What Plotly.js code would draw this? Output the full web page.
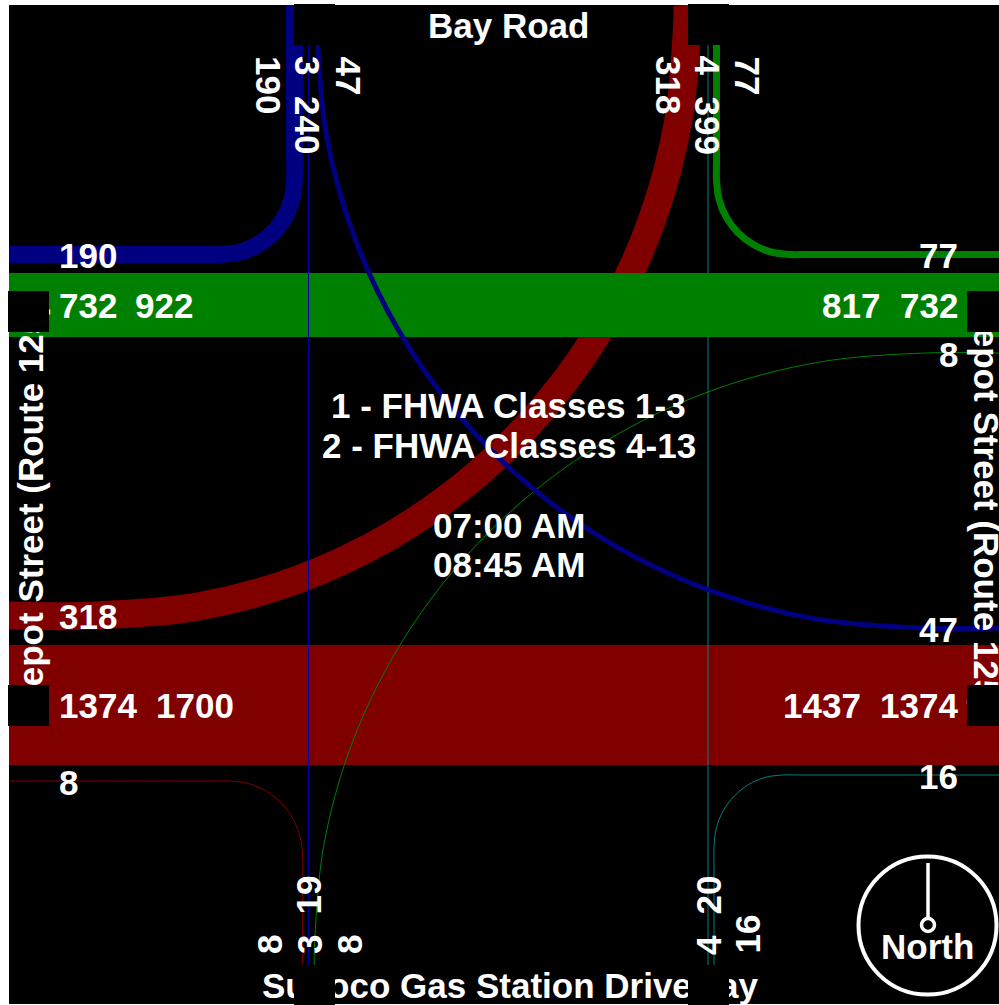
<!DOCTYPE html>
<html>
<head>
<meta charset="utf-8">
<script src="https://cdn.plot.ly/plotly-3.0.1.min.js"></script>
<style>html,body{margin:0;padding:0;background:#fff;overflow:hidden}</style>
</head>
<body>
<div id="chart" style="width:999px;height:1005px"></div>
<script>
// ---- road names and notes
const roadNorth = "Bay Road";
const roadSouth = "Sunoco Gas Station Driveway";
const roadSide = "Depot Street (Route 125)";
const classNotes = ["1 - FHWA Classes 1-3", "2 - FHWA Classes 4-13"];
const timeNotes = ["07:00 AM", "08:45 AM"];
const compassLabel = "North";

// ---- counts on each approach
const westCounts = [190, 732, 922, 318, 1374, 1700, 8];
const eastCounts = [77, 817, 732, 8, 47, 1437, 1374, 16];
const northCounts = [190, 3, 240, 47, 318, 4, 399, 77];
const southCounts = [8, 3, 19, 8, 4, 20, 16];

// ---- movement paths (axis units)
const redThroughX = [8, 999];            const redThroughY = [705, 705];
const red318X = [687.5, 687.5, 678.5, 651.8, 608.3, 549.1, 476.2, 391.8, 298.3, 198.7, 96, 8];
const red318Y = [5, 15, 119.3, 220.4, 315.3, 401, 475, 535, 579.3, 606.4, 615.5, 615.5];
const red8X = [8, 211, 230, 248.8, 266.4, 281.4, 293, 300.2, 302.7, 302.7, 302.7];
const red8Y = [781, 781, 781, 783.6, 791.1, 803.2, 818.9, 837.6, 856.7, 876, 965];

const tealThroughX = [708, 708];         const tealThroughY = [45, 965];
const teal16X = [999, 802, 783, 765.1, 748.5, 734.2, 723.2, 716.4, 714, 714, 714];
const teal16Y = [775, 775, 775, 777.4, 784.6, 796, 810.8, 827.9, 846.7, 866, 965];

const greenThroughX = [8, 999];          const greenThroughY = [305, 305];
const green77X = [716.5, 716.5, 716.5, 719, 726.3, 738, 753.3, 771, 790, 809, 999];
const green77Y = [45, 161, 180, 199.3, 217.3, 232.7, 244.5, 252, 254.5, 254.5, 254.5];
const green8X = [314.3, 314.3, 323.6, 351.1, 396.1, 457.2, 532.4, 619.6, 716.1, 819, 925, 999];
const green8Y = [965, 950, 846.4, 745.8, 651.5, 566.3, 492.7, 433, 389, 362.1, 353, 353];

const blue190X = [8, 203, 222, 240.8, 258.3, 273.3, 284.8, 292, 294.5, 294.5, 294.5];
const blue190Y = [254.5, 254.5, 254.5, 251.9, 244.4, 232.4, 216.8, 198.5, 179, 160, 5];
const blueThroughX = [308.5, 308.5];     const blueThroughY = [45, 965];
const blue47X = [317, 317, 326.2, 353.4, 397.8, 458.1, 532.4, 618.5, 713.8, 815.3, 920, 999];
const blue47Y = [5, 30, 133.8, 234.5, 329, 414.4, 488.1, 547.9, 591.9, 618.9, 628, 628];

const MAROON = "#800000", TEAL = "#008080", GREEN = "#008000", NAVY = "#000080", THINBLUE = "#0000a8";
const FONT = {family: '"Liberation Sans", Arial, sans-serif', size: 35, color: "#ffffff", weight: 700};

function path(x, y, color, width, curved) {
  return {
    type: "scatter", mode: "lines", x: x, y: y, hoverinfo: "skip", cliponaxis: false, showlegend: false,
    line: {color: color, width: width, shape: curved ? "spline" : "linear", smoothing: 1}
  };
}

// draw order: maroon, teal, green, blue
const traces = [
  path(redThroughX, redThroughY, MAROON, 120),
  path(red318X, red318Y, MAROON, 28, true),
  path(red8X, red8Y, MAROON, 1, true),
  path(tealThroughX, tealThroughY, TEAL, 1),
  path(teal16X, teal16Y, TEAL, 1, true),
  path(greenThroughX, greenThroughY, GREEN, 64),
  path(green77X, green77Y, GREEN, 7, true),
  path(green8X, green8Y, GREEN, 1, true),
  path(blue190X, blue190Y, NAVY, 17, true),
  path(blueThroughX, blueThroughY, THINBLUE, 1),
  path(blue47X, blue47Y, NAVY, 5, true)
];

function label(text, x, y, angle, xanchor) {
  return {
    text: String(text), x: x, y: y, xref: "x", yref: "y", showarrow: false, textangle: angle || 0,
    xanchor: xanchor || "center", yanchor: "middle", font: FONT, borderpad: 0, borderwidth: 0
  };
}
function mask(x0, x1, y0, y1) {
  return {
    text: "\u00a0", x: (x0 + x1) / 2, y: (y0 + y1) / 2, xref: "x", yref: "y", showarrow: false,
    width: x1 - x0, height: y1 - y0, bgcolor: "#000000", borderpad: 0, borderwidth: 0,
    xanchor: "center", yanchor: "middle", font: {size: 10}
  };
}

const annotations = [
  label(roadNorth, 508.5, 25),
  label(roadSouth, 509.5, 985.5),
  label(roadSide, 29.5, 508, -90),
  label(roadSide, 986, 506.5, 90),
  // masks sit on the road names at each approach
  mask(8, 49, 291, 332), mask(8, 49, 685, 726),
  mask(967, 1000, 291, 332), mask(967, 1000, 685, 726),
  mask(294, 335, 4, 45), mask(688, 729, 4, 45),
  mask(294, 335, 965, 1006), mask(688, 729, 965, 1006),

  label(classNotes[0], 508.5, 405.5), label(classNotes[1], 508.5, 445.5),
  label(timeNotes[0], 508.5, 525.5), label(timeNotes[1], 508.5, 564.5),

  label(westCounts[0], 59, 255.5, 0, "left"),
  label(westCounts[1], 59, 305.7, 0, "left"),
  label(westCounts[2], 135, 305.7, 0, "left"),
  label(westCounts[3], 59, 616, 0, "left"),
  label(westCounts[4], 59, 705.5, 0, "left"),
  label(westCounts[5], 156, 705.5, 0, "left"),
  label(westCounts[6], 59, 782.5, 0, "left"),

  label(eastCounts[0], 957.5, 255.5, 0, "right"),
  label(eastCounts[1], 879.5, 305.7, 0, "right"),
  label(eastCounts[2], 957.5, 305.7, 0, "right"),
  label(eastCounts[3], 957.5, 354.3, 0, "right"),
  label(eastCounts[4], 957.5, 629, 0, "right"),
  label(eastCounts[5], 860.5, 705.5, 0, "right"),
  label(eastCounts[6], 957.5, 705.5, 0, "right"),
  label(eastCounts[7], 957.5, 776, 0, "right"),

  label(northCounts[0], 269, 85, 90),
  label(northCounts[1], 308, 65, 90),
  label(northCounts[2], 308, 125, 90),
  label(northCounts[3], 348, 75.5, 90),
  label(northCounts[4], 669, 85, 90),
  label(northCounts[5], 707.5, 65, 90),
  label(northCounts[6], 707.5, 125, 90),
  label(northCounts[7], 747, 75.5, 90),

  label(southCounts[0], 269, 945, -90),
  label(southCounts[1], 309, 945, -90),
  label(southCounts[2], 308, 895.5, -90),
  label(southCounts[3], 349, 945, -90),
  label(southCounts[4], 708, 945, -90),
  label(southCounts[5], 708, 895.5, -90),
  label(southCounts[6], 747, 934.5, -90),

  label(compassLabel, 927.5, 946)
];

// compass
const compassCentre = [927.5, 925.5], compassRadius = 69, hubCentre = [928, 925], hubRadius = 6.5, needleTop = 863;
const shapes = [
  {type: "circle", xref: "x", yref: "y", layer: "above",
   x0: compassCentre[0] - compassRadius, x1: compassCentre[0] + compassRadius,
   y0: compassCentre[1] - compassRadius, y1: compassCentre[1] + compassRadius,
   line: {color: "#ffffff", width: 4}},
  {type: "line", xref: "x", yref: "y", layer: "above", x0: hubCentre[0], x1: hubCentre[0],
   y0: needleTop, y1: hubCentre[1] - hubRadius, line: {color: "#ffffff", width: 3.5}},
  {type: "circle", xref: "x", yref: "y", layer: "above",
   x0: hubCentre[0] - hubRadius, x1: hubCentre[0] + hubRadius,
   y0: hubCentre[1] - hubRadius, y1: hubCentre[1] + hubRadius,
   line: {color: "#ffffff", width: 3.5}}
];

const hiddenAxis = {visible: false, showgrid: false, zeroline: false, fixedrange: true};
const layout = {
  width: 999, height: 1005, autosize: false,
  margin: {l: 9, r: 0, t: 5, b: 1, pad: 0},
  paper_bgcolor: "#ffffff", plot_bgcolor: "#000000", showlegend: false,
  xaxis: Object.assign({range: [9, 999]}, hiddenAxis),
  yaxis: Object.assign({range: [1004, 5]}, hiddenAxis),
  annotations: annotations, shapes: shapes
};
Plotly.newPlot("chart", traces, layout, {displayModeBar: false, staticPlot: true});
</script>
</body>
</html>
